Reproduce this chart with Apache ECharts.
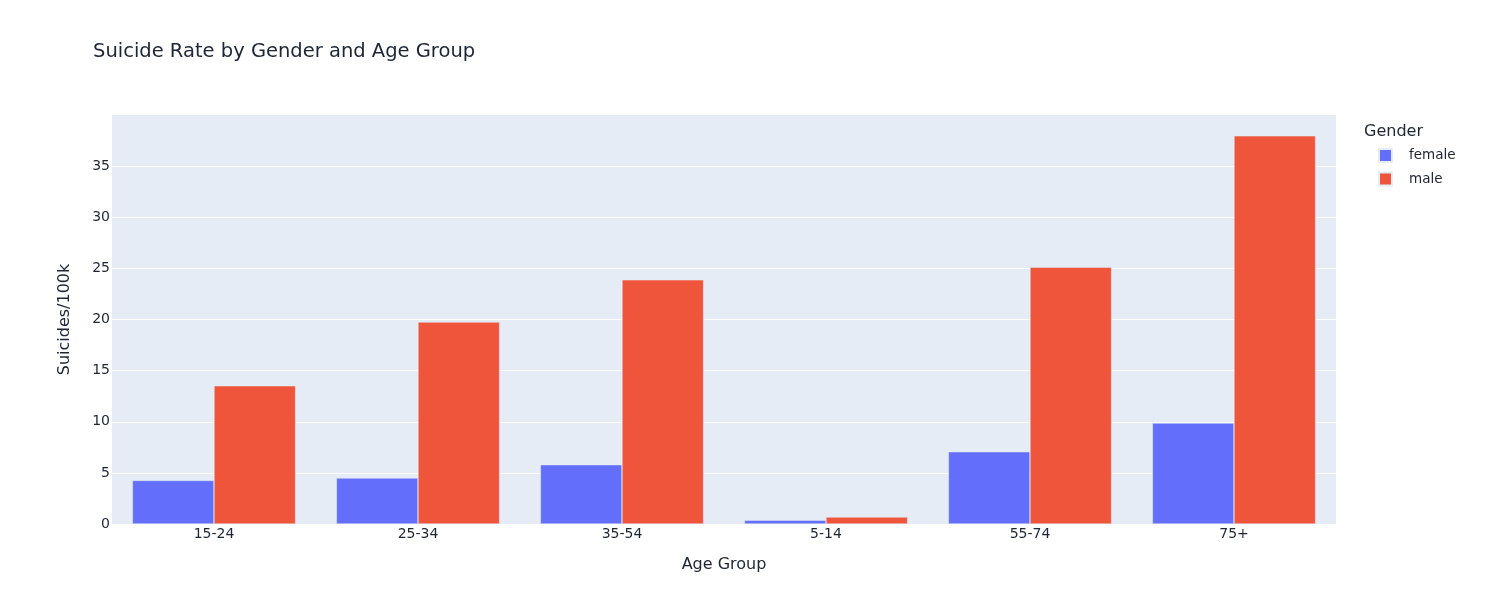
<!DOCTYPE html>
<html>
<head>
<meta charset="utf-8">
<script src="https://cdn.jsdelivr.net/npm/echarts@6/dist/echarts.min.js"></script>
<style>
  html, body { margin: 0; padding: 0; background: #fff; }
  #main { width: 1512px; height: 600px; }
</style>
</head>
<body>
<div id="main"></div>
<script>
// data
const ageGroups = ['15-24', '25-34', '35-54', '5-14', '55-74', '75+']
const female = [4.26, 4.5, 5.8, 0.36, 7.07, 9.87]
const male = [13.52, 19.75, 23.88, 0.68, 25.12, 37.96]
const seriesNames = ['female', 'male']

const font = 'DejaVu Sans, Verdana, sans-serif'
const textColor = '#1e2533'

const myChart = echarts.init(document.getElementById('main'))
const option = {
  animation: false,
  textStyle: { fontFamily: font, color: textColor },
  title: [
    {
      text: 'Suicide Rate by Gender and Age Group',
      left: 88, top: 37,
      textStyle: { fontFamily: font, fontSize: 19.5, fontWeight: 'normal', color: textColor }
    },
    {
      text: 'Gender',
      left: 1359, top: 119,
      textStyle: { fontFamily: font, fontSize: 16, fontWeight: 'normal', color: textColor }
    }
  ],
  legend: {
    orient: 'vertical',
    left: 1373, top: 143,
    itemWidth: 13, itemHeight: 13, itemGap: 8.5,
    icon: 'rect',
    data: seriesNames,
    textStyle: { fontFamily: font, fontSize: 13.5, color: textColor, padding: [0, 0, 0, 12] }
  },
  grid: {
    left: 112, right: 176, top: 115, bottom: 76,
    show: true, backgroundColor: '#E5ECF6', borderWidth: 0
  },
  xAxis: {
    type: 'category',
    data: ageGroups,
    name: 'Age Group',
    nameLocation: 'middle',
    nameGap: 33,
    nameTextStyle: { fontFamily: font, fontSize: 16, color: textColor },
    axisLine: { show: false },
    axisTick: { show: false },
    axisLabel: { fontFamily: font, fontSize: 14, color: textColor, margin: 3 }
  },
  yAxis: {
    type: 'value',
    min: 0, max: 40, interval: 5,
    name: 'Suicides/100k',
    nameLocation: 'middle',
    nameGap: 39,
    nameTextStyle: { fontFamily: font, fontSize: 16, color: textColor },
    axisLine: { show: false },
    axisTick: { show: false },
    axisLabel: {
      fontFamily: font, fontSize: 14, color: textColor, margin: 2,
      showMaxLabel: false
    },
    splitLine: { showMaxLine: false, lineStyle: { color: '#ffffff', width: 1 } }
  },
  series: [
    {
      name: 'female', type: 'bar', data: female,
      barGap: '0%', barCategoryGap: '20%',
      itemStyle: { color: '#636efa', borderColor: '#E5ECF6', borderWidth: 0.5 }
    },
    {
      name: 'male', type: 'bar', data: male,
      itemStyle: { color: '#ef553b', borderColor: '#E5ECF6', borderWidth: 0.5 }
    }
  ]
}
myChart.setOption(option)
</script>
</body>
</html>
